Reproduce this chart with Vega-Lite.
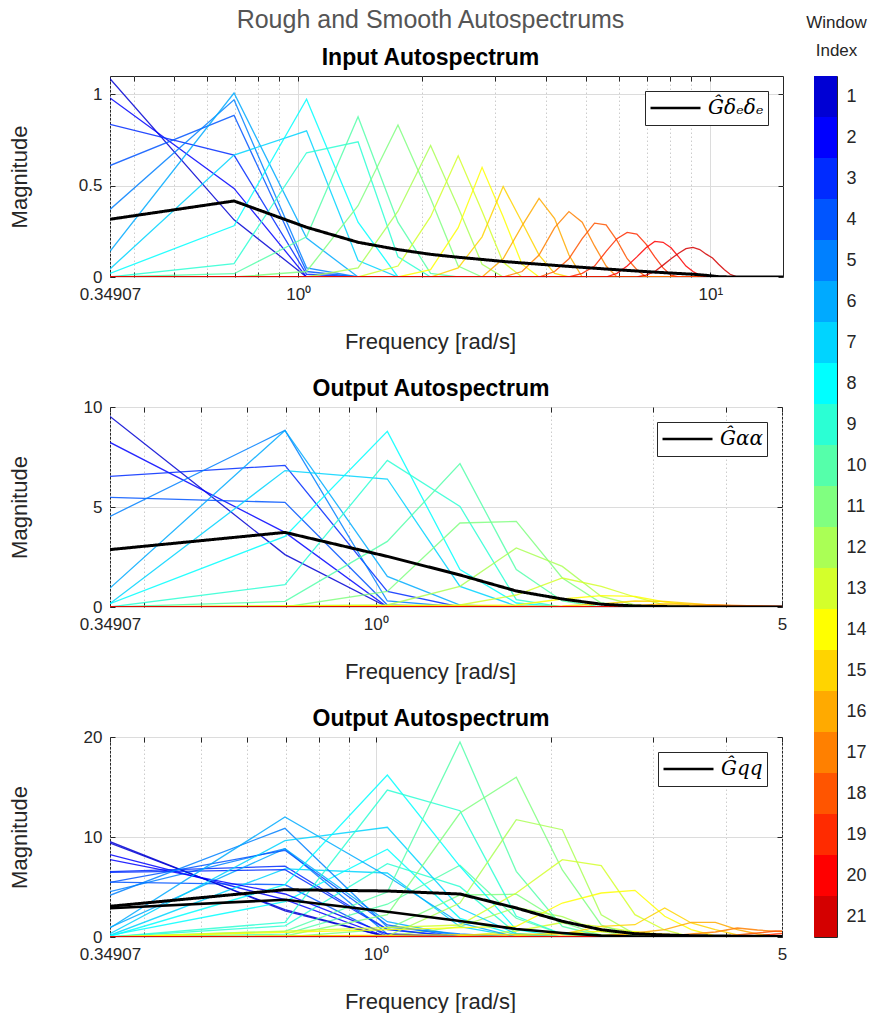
{
  "$schema": "https://vega.github.io/schema/vega-lite/v6.json",
  "padding": {"left": 7, "top": 7, "right": 0, "bottom": 0},
  "background": "white",
  "config": {
    "font": "Liberation Sans",
    "view": {"stroke": "#262626", "strokeWidth": 1},
    "axis": {
      "domain": false,
      "labelFont": "Liberation Sans",
      "labelFontSize": 17,
      "labelColor": "#262626",
      "titleFont": "Liberation Sans",
      "titleFontSize": 22,
      "titleFontWeight": "normal",
      "titleColor": "#262626",
      "tickColor": "#262626",
      "tickSize": -5,
      "gridColor": "#dcdcdc",
      "gridWidth": 1
    },
    "title": {"font": "Liberation Sans", "fontSize": 23, "fontWeight": "bold", "color": "#000000", "frame": "group"}
  },
  "datasets": {
    "inR": [
      {"w":1,"f":0.34907,"v":1.085},{"w":1,"f":0.6981,"v":0.313},{"w":1,"f":1.0472,"v":0},{"w":1,"f":15.0098,"v":0},
      {"w":2,"f":0.34907,"v":0.98},{"w":2,"f":0.6981,"v":0.485},{"w":2,"f":1.0472,"v":0},{"w":2,"f":15.0098,"v":0},
      {"w":3,"f":0.34907,"v":0.835},{"w":3,"f":0.6981,"v":0.667},{"w":3,"f":1.0472,"v":0.015},{"w":3,"f":1.3963,"v":0},{"w":3,"f":15.0098,"v":0},
      {"w":4,"f":0.34907,"v":0.61},{"w":4,"f":0.6981,"v":0.885},{"w":4,"f":1.0472,"v":0.03},{"w":4,"f":1.3963,"v":0},{"w":4,"f":15.0098,"v":0},
      {"w":5,"f":0.34907,"v":0.37},{"w":5,"f":0.6981,"v":0.97},{"w":5,"f":1.0472,"v":0.05},{"w":5,"f":1.3963,"v":0},{"w":5,"f":15.0098,"v":0},
      {"w":6,"f":0.34907,"v":0.14},{"w":6,"f":0.6981,"v":1.007},{"w":6,"f":1.0472,"v":0.213},{"w":6,"f":1.3963,"v":0},{"w":6,"f":15.0098,"v":0},
      {"w":7,"f":0.34907,"v":0.044},{"w":7,"f":0.6981,"v":0.667},{"w":7,"f":1.0472,"v":0.8},{"w":7,"f":1.3963,"v":0.09},{"w":7,"f":1.7453,"v":0},{"w":7,"f":15.0098,"v":0},
      {"w":8,"f":0.34907,"v":0.02},{"w":8,"f":0.6981,"v":0.28},{"w":8,"f":1.0472,"v":0.973},{"w":8,"f":1.3963,"v":0.3},{"w":8,"f":1.7453,"v":0},{"w":8,"f":15.0098,"v":0},
      {"w":9,"f":0.34907,"v":0},{"w":9,"f":0.6981,"v":0.073},{"w":9,"f":1.0472,"v":0.68},{"w":9,"f":1.3963,"v":0.74},{"w":9,"f":1.7453,"v":0.11},{"w":9,"f":2.0944,"v":0},{"w":9,"f":15.0098,"v":0},
      {"w":10,"f":0.34907,"v":0},{"w":10,"f":0.6981,"v":0.018},{"w":10,"f":1.0472,"v":0.22},{"w":10,"f":1.3963,"v":0.877},{"w":10,"f":1.7453,"v":0.3},{"w":10,"f":2.0944,"v":0.02},{"w":10,"f":2.4435,"v":0},{"w":10,"f":15.0098,"v":0},
      {"w":11,"f":0.34907,"v":0},{"w":11,"f":0.6981,"v":0},{"w":11,"f":1.0472,"v":0.03},{"w":11,"f":1.3963,"v":0.39},{"w":11,"f":1.7453,"v":0.832},{"w":11,"f":2.0944,"v":0.43},{"w":11,"f":2.4435,"v":0.06},{"w":11,"f":2.7925,"v":0},{"w":11,"f":15.0098,"v":0},
      {"w":12,"f":0.34907,"v":0},{"w":12,"f":1.0472,"v":0},{"w":12,"f":1.3963,"v":0.05},{"w":12,"f":1.7453,"v":0.36},{"w":12,"f":2.0944,"v":0.72},{"w":12,"f":2.4435,"v":0.38},{"w":12,"f":2.7925,"v":0.07},{"w":12,"f":3.1416,"v":0},{"w":12,"f":15.0098,"v":0},
      {"w":13,"f":0.34907,"v":0},{"w":13,"f":1.3963,"v":0},{"w":13,"f":1.7453,"v":0.06},{"w":13,"f":2.0944,"v":0.33},{"w":13,"f":2.4435,"v":0.663},{"w":13,"f":2.7925,"v":0.36},{"w":13,"f":3.1416,"v":0.08},{"w":13,"f":3.4907,"v":0},{"w":13,"f":15.0098,"v":0},
      {"w":14,"f":0.34907,"v":0},{"w":14,"f":1.7453,"v":0},{"w":14,"f":2.0944,"v":0.04},{"w":14,"f":2.4435,"v":0.27},{"w":14,"f":2.7925,"v":0.6},{"w":14,"f":3.1416,"v":0.33},{"w":14,"f":3.4907,"v":0.07},{"w":14,"f":3.8398,"v":0},{"w":14,"f":15.0098,"v":0},
      {"w":15,"f":0.34907,"v":0},{"w":15,"f":2.0944,"v":0},{"w":15,"f":2.4435,"v":0.05},{"w":15,"f":2.7925,"v":0.22},{"w":15,"f":3.1416,"v":0.495},{"w":15,"f":3.4907,"v":0.3},{"w":15,"f":3.8398,"v":0.12},{"w":15,"f":4.1888,"v":0.02},{"w":15,"f":4.5379,"v":0},{"w":15,"f":15.0098,"v":0},
      {"w":16,"f":0.34907,"v":0},{"w":16,"f":2.7925,"v":0},{"w":16,"f":3.1416,"v":0.1},{"w":16,"f":3.4907,"v":0.28},{"w":16,"f":3.8398,"v":0.43},{"w":16,"f":4.1888,"v":0.32},{"w":16,"f":4.5379,"v":0.12},{"w":16,"f":4.8869,"v":0},{"w":16,"f":15.0098,"v":0},
      {"w":17,"f":0.34907,"v":0},{"w":17,"f":3.1416,"v":0},{"w":17,"f":3.4907,"v":0.03},{"w":17,"f":3.8398,"v":0.12},{"w":17,"f":4.1888,"v":0.27},{"w":17,"f":4.5379,"v":0.358},{"w":17,"f":4.8869,"v":0.3},{"w":17,"f":5.236,"v":0.17},{"w":17,"f":5.5851,"v":0.06},{"w":17,"f":5.9341,"v":0},{"w":17,"f":15.0098,"v":0},
      {"w":18,"f":0.34907,"v":0},{"w":18,"f":3.8398,"v":0},{"w":18,"f":4.1888,"v":0.03},{"w":18,"f":4.5379,"v":0.1},{"w":18,"f":4.8869,"v":0.21},{"w":18,"f":5.236,"v":0.295},{"w":18,"f":5.5851,"v":0.285},{"w":18,"f":5.9341,"v":0.2},{"w":18,"f":6.2832,"v":0.1},{"w":18,"f":6.6323,"v":0.04},{"w":18,"f":6.9813,"v":0},{"w":18,"f":15.0098,"v":0},
      {"w":19,"f":0.34907,"v":0},{"w":19,"f":4.5379,"v":0},{"w":19,"f":4.8869,"v":0.02},{"w":19,"f":5.236,"v":0.06},{"w":19,"f":5.5851,"v":0.14},{"w":19,"f":5.9341,"v":0.21},{"w":19,"f":6.2832,"v":0.244},{"w":19,"f":6.6323,"v":0.235},{"w":19,"f":6.9813,"v":0.18},{"w":19,"f":7.3304,"v":0.11},{"w":19,"f":7.6794,"v":0.05},{"w":19,"f":8.0285,"v":0.01},{"w":19,"f":8.3776,"v":0},{"w":19,"f":15.0098,"v":0},
      {"w":20,"f":0.34907,"v":0},{"w":20,"f":5.5851,"v":0},{"w":20,"f":5.9341,"v":0.02},{"w":20,"f":6.2832,"v":0.06},{"w":20,"f":6.6323,"v":0.11},{"w":20,"f":6.9813,"v":0.16},{"w":20,"f":7.3304,"v":0.195},{"w":20,"f":7.6794,"v":0.19},{"w":20,"f":8.0285,"v":0.16},{"w":20,"f":8.3776,"v":0.11},{"w":20,"f":8.7266,"v":0.06},{"w":20,"f":9.0757,"v":0.03},{"w":20,"f":9.4248,"v":0.01},{"w":20,"f":9.7738,"v":0},{"w":20,"f":15.0098,"v":0},
      {"w":21,"f":0.34907,"v":0},{"w":21,"f":6.6323,"v":0},{"w":21,"f":6.9813,"v":0.01},{"w":21,"f":7.3304,"v":0.03},{"w":21,"f":7.6794,"v":0.065},{"w":21,"f":8.0285,"v":0.1},{"w":21,"f":8.3776,"v":0.13},{"w":21,"f":8.7266,"v":0.155},{"w":21,"f":9.0757,"v":0.162},{"w":21,"f":9.4248,"v":0.15},{"w":21,"f":9.7738,"v":0.125},{"w":21,"f":10.1229,"v":0.104},{"w":21,"f":10.472,"v":0.07},{"w":21,"f":10.821,"v":0.04},{"w":21,"f":11.1701,"v":0.015},{"w":21,"f":11.5192,"v":0.003},{"w":21,"f":11.8682,"v":0},{"w":21,"f":15.0098,"v":0}
    ],
    "inS": [
      {"f":0.34907,"v":0.316},{"f":0.6981,"v":0.416},{"f":1.0472,"v":0.272},{"f":1.3963,"v":0.19},{"f":1.7453,"v":0.15},{"f":2.0944,"v":0.124},{"f":2.4435,"v":0.108},{"f":2.7925,"v":0.096},{"f":3.1416,"v":0.085},{"f":3.4907,"v":0.077},{"f":3.8398,"v":0.07},{"f":4.5379,"v":0.058},{"f":5.236,"v":0.048},{"f":6.2832,"v":0.036},{"f":7.6794,"v":0.024},{"f":9.0757,"v":0.015},{"f":9.7738,"v":0.009},{"f":10.472,"v":0.002},{"f":11.1701,"v":0},{"f":15.0098,"v":0}
    ],
    "alR": [
      {"w":1,"f":0.34907,"v":9.53},{"w":1,"f":0.6981,"v":2.62},{"w":1,"f":1.0472,"v":0},{"w":1,"f":5.236,"v":0},
      {"w":2,"f":0.34907,"v":8.23},{"w":2,"f":0.6981,"v":3.73},{"w":2,"f":1.0472,"v":0},{"w":2,"f":5.236,"v":0},
      {"w":3,"f":0.34907,"v":6.53},{"w":3,"f":0.6981,"v":7.08},{"w":3,"f":1.0472,"v":0.78},{"w":3,"f":1.3963,"v":0},{"w":3,"f":5.236,"v":0},
      {"w":4,"f":0.34907,"v":5.48},{"w":4,"f":0.6981,"v":5.23},{"w":4,"f":1.0472,"v":0.1},{"w":4,"f":1.3963,"v":0},{"w":4,"f":5.236,"v":0},
      {"w":5,"f":0.34907,"v":4.53},{"w":5,"f":0.6981,"v":8.83},{"w":5,"f":1.0472,"v":0.3},{"w":5,"f":1.3963,"v":0},{"w":5,"f":5.236,"v":0},
      {"w":6,"f":0.34907,"v":0.95},{"w":6,"f":0.6981,"v":8.83},{"w":6,"f":1.0472,"v":1.53},{"w":6,"f":1.3963,"v":0.1},{"w":6,"f":1.7453,"v":0},{"w":6,"f":5.236,"v":0},
      {"w":7,"f":0.34907,"v":0.17},{"w":7,"f":0.6981,"v":6.82},{"w":7,"f":1.0472,"v":6.4},{"w":7,"f":1.3963,"v":1.03},{"w":7,"f":1.7453,"v":0.05},{"w":7,"f":2.0944,"v":0},{"w":7,"f":5.236,"v":0},
      {"w":8,"f":0.34907,"v":0.17},{"w":8,"f":0.6981,"v":3.53},{"w":8,"f":1.0472,"v":8.78},{"w":8,"f":1.3963,"v":1.87},{"w":8,"f":1.7453,"v":0.2},{"w":8,"f":2.0944,"v":0},{"w":8,"f":5.236,"v":0},
      {"w":9,"f":0.34907,"v":0},{"w":9,"f":0.6981,"v":1.12},{"w":9,"f":1.0472,"v":7.33},{"w":9,"f":1.3963,"v":5.03},{"w":9,"f":1.7453,"v":0.37},{"w":9,"f":2.0944,"v":0},{"w":9,"f":5.236,"v":0},
      {"w":10,"f":0.34907,"v":0},{"w":10,"f":0.6981,"v":0.28},{"w":10,"f":1.0472,"v":3.28},{"w":10,"f":1.3963,"v":7.17},{"w":10,"f":1.7453,"v":1.87},{"w":10,"f":2.0944,"v":0.3},{"w":10,"f":2.4435,"v":0},{"w":10,"f":5.236,"v":0},
      {"w":11,"f":0.34907,"v":0},{"w":11,"f":0.6981,"v":0},{"w":11,"f":1.0472,"v":0.78},{"w":11,"f":1.3963,"v":4.2},{"w":11,"f":1.7453,"v":4.28},{"w":11,"f":2.0944,"v":1.45},{"w":11,"f":2.4435,"v":0.2},{"w":11,"f":2.7925,"v":0},{"w":11,"f":5.236,"v":0},
      {"w":12,"f":0.34907,"v":0},{"w":12,"f":1.0472,"v":0.1},{"w":12,"f":1.3963,"v":1.03},{"w":12,"f":1.7453,"v":2.95},{"w":12,"f":2.0944,"v":2.03},{"w":12,"f":2.4435,"v":0.53},{"w":12,"f":2.7925,"v":0.1},{"w":12,"f":3.1416,"v":0},{"w":12,"f":5.236,"v":0},
      {"w":13,"f":0.34907,"v":0},{"w":13,"f":1.3963,"v":0.1},{"w":13,"f":1.7453,"v":0.6},{"w":13,"f":2.0944,"v":1.45},{"w":13,"f":2.4435,"v":1.03},{"w":13,"f":2.7925,"v":0.5},{"w":13,"f":3.1416,"v":0.1},{"w":13,"f":3.4907,"v":0},{"w":13,"f":5.236,"v":0},
      {"w":14,"f":0.34907,"v":0},{"w":14,"f":1.7453,"v":0.1},{"w":14,"f":2.0944,"v":0.4},{"w":14,"f":2.4435,"v":0.57},{"w":14,"f":2.7925,"v":0.53},{"w":14,"f":3.1416,"v":0.25},{"w":14,"f":3.4907,"v":0.1},{"w":14,"f":3.8398,"v":0.02},{"w":14,"f":4.1888,"v":0},{"w":14,"f":5.236,"v":0},
      {"w":15,"f":0.34907,"v":0},{"w":15,"f":2.0944,"v":0.05},{"w":15,"f":2.4435,"v":0.15},{"w":15,"f":2.7925,"v":0.3},{"w":15,"f":3.1416,"v":0.28},{"w":15,"f":3.4907,"v":0.18},{"w":15,"f":3.8398,"v":0.08},{"w":15,"f":4.1888,"v":0.02},{"w":15,"f":4.5379,"v":0},{"w":15,"f":5.236,"v":0},
      {"w":16,"f":0.34907,"v":0},{"w":16,"f":2.4435,"v":0.02},{"w":16,"f":2.7925,"v":0.08},{"w":16,"f":3.1416,"v":0.15},{"w":16,"f":3.4907,"v":0.14},{"w":16,"f":3.8398,"v":0.1},{"w":16,"f":4.1888,"v":0.05},{"w":16,"f":4.5379,"v":0.02},{"w":16,"f":4.8869,"v":0},{"w":16,"f":5.236,"v":0},
      {"w":17,"f":0.34907,"v":0},{"w":17,"f":3.1416,"v":0.02},{"w":17,"f":3.4907,"v":0.06},{"w":17,"f":3.8398,"v":0.1},{"w":17,"f":4.1888,"v":0.08},{"w":17,"f":4.5379,"v":0.05},{"w":17,"f":4.8869,"v":0.02},{"w":17,"f":5.236,"v":0},
      {"w":18,"f":0.34907,"v":0},{"w":18,"f":3.4907,"v":0.01},{"w":18,"f":3.8398,"v":0.03},{"w":18,"f":4.1888,"v":0.05},{"w":18,"f":4.5379,"v":0.06},{"w":18,"f":4.8869,"v":0.04},{"w":18,"f":5.236,"v":0.02},
      {"w":19,"f":0.34907,"v":0},{"w":19,"f":4.1888,"v":0.01},{"w":19,"f":4.5379,"v":0.02},{"w":19,"f":4.8869,"v":0.03},{"w":19,"f":5.236,"v":0.03},
      {"w":20,"f":0.34907,"v":0},{"w":20,"f":4.8869,"v":0.01},{"w":20,"f":5.236,"v":0.01},
      {"w":21,"f":0.34907,"v":0},{"w":21,"f":5.236,"v":0}
    ],
    "alS": [
      {"f":0.34907,"v":2.87},{"f":0.6981,"v":3.73},{"f":1.0472,"v":2.53},{"f":1.3963,"v":1.6},{"f":1.7453,"v":0.8},{"f":2.0944,"v":0.4},{"f":2.4435,"v":0.14},{"f":2.7925,"v":0.05},{"f":3.1416,"v":0.02},{"f":3.4907,"v":0.005},{"f":3.8398,"v":0},{"f":5.236,"v":0}
    ],
    "qR": [
      {"w":1,"f":0.34907,"v":9.4},{"w":1,"f":0.6981,"v":2.73},{"w":1,"f":1.0472,"v":0},{"w":1,"f":5.236,"v":0},
      {"w":2,"f":0.34907,"v":7.73},{"w":2,"f":0.6981,"v":4.3},{"w":2,"f":1.0472,"v":0.3},{"w":2,"f":1.3963,"v":0},{"w":2,"f":5.236,"v":0},
      {"w":3,"f":0.34907,"v":6.47},{"w":3,"f":0.6981,"v":6.73},{"w":3,"f":1.0472,"v":0.73},{"w":3,"f":1.3963,"v":0},{"w":3,"f":5.236,"v":0},
      {"w":4,"f":0.34907,"v":5.47},{"w":4,"f":0.6981,"v":8.67},{"w":4,"f":1.0472,"v":1.2},{"w":4,"f":1.3963,"v":0},{"w":4,"f":5.236,"v":0},
      {"w":5,"f":0.34907,"v":4.17},{"w":5,"f":0.6981,"v":10.87},{"w":5,"f":1.0472,"v":1.0},{"w":5,"f":1.3963,"v":0.3},{"w":5,"f":1.7453,"v":0},{"w":5,"f":5.236,"v":0},
      {"w":6,"f":0.34907,"v":0.9},{"w":6,"f":0.6981,"v":12.0},{"w":6,"f":1.0472,"v":6.07},{"w":6,"f":1.3963,"v":1.4},{"w":6,"f":1.7453,"v":0},{"w":6,"f":5.236,"v":0},
      {"w":7,"f":0.34907,"v":0.33},{"w":7,"f":0.6981,"v":9.63},{"w":7,"f":1.0472,"v":10.97},{"w":7,"f":1.3963,"v":2.9},{"w":7,"f":1.7453,"v":0.3},{"w":7,"f":2.0944,"v":0},{"w":7,"f":5.236,"v":0},
      {"w":8,"f":0.34907,"v":0.07},{"w":8,"f":0.6981,"v":5.23},{"w":8,"f":1.0472,"v":16.2},{"w":8,"f":1.3963,"v":7.07},{"w":8,"f":1.7453,"v":0.73},{"w":8,"f":2.0944,"v":0},{"w":8,"f":5.236,"v":0},
      {"w":9,"f":0.34907,"v":0},{"w":9,"f":0.6981,"v":1.47},{"w":9,"f":1.0472,"v":14.7},{"w":9,"f":1.3963,"v":12.63},{"w":9,"f":1.7453,"v":2.07},{"w":9,"f":2.0944,"v":0.3},{"w":9,"f":2.4435,"v":0},{"w":9,"f":5.236,"v":0},
      {"w":10,"f":0.34907,"v":0},{"w":10,"f":0.6981,"v":0.57},{"w":10,"f":1.0472,"v":4.5},{"w":10,"f":1.3963,"v":19.5},{"w":10,"f":1.7453,"v":6.57},{"w":10,"f":2.0944,"v":1.07},{"w":10,"f":2.4435,"v":0.1},{"w":10,"f":2.7925,"v":0},{"w":10,"f":5.236,"v":0},
      {"w":11,"f":0.34907,"v":0},{"w":11,"f":0.6981,"v":0.1},{"w":11,"f":1.0472,"v":2.23},{"w":11,"f":1.3963,"v":12.4},{"w":11,"f":1.7453,"v":15.97},{"w":11,"f":2.0944,"v":6.7},{"w":11,"f":2.4435,"v":1.2},{"w":11,"f":2.7925,"v":0.1},{"w":11,"f":3.1416,"v":0},{"w":11,"f":5.236,"v":0},
      {"w":12,"f":0.34907,"v":0},{"w":12,"f":1.0472,"v":0.1},{"w":12,"f":1.3963,"v":3.4},{"w":12,"f":1.7453,"v":11.73},{"w":12,"f":2.0944,"v":10.73},{"w":12,"f":2.4435,"v":2.23},{"w":12,"f":2.7925,"v":0.3},{"w":12,"f":3.1416,"v":0},{"w":12,"f":5.236,"v":0},
      {"w":13,"f":0.34907,"v":0},{"w":13,"f":1.3963,"v":1.2},{"w":13,"f":1.7453,"v":4.4},{"w":13,"f":2.0944,"v":7.73},{"w":13,"f":2.4435,"v":7.13},{"w":13,"f":2.7925,"v":2.23},{"w":13,"f":3.1416,"v":0.7},{"w":13,"f":3.4907,"v":0},{"w":13,"f":5.236,"v":0},
      {"w":14,"f":0.34907,"v":0},{"w":14,"f":1.7453,"v":1.07},{"w":14,"f":2.0944,"v":3.4},{"w":14,"f":2.4435,"v":4.4},{"w":14,"f":2.7925,"v":4.67},{"w":14,"f":3.1416,"v":2.07},{"w":14,"f":3.4907,"v":0.73},{"w":14,"f":3.8398,"v":0.1},{"w":14,"f":4.1888,"v":0},{"w":14,"f":5.236,"v":0},
      {"w":15,"f":0.34907,"v":0},{"w":15,"f":2.0944,"v":0.3},{"w":15,"f":2.4435,"v":1.07},{"w":15,"f":2.7925,"v":1.23},{"w":15,"f":3.1416,"v":2.9},{"w":15,"f":3.4907,"v":1.4},{"w":15,"f":3.8398,"v":0.73},{"w":15,"f":4.1888,"v":0.2},{"w":15,"f":4.5379,"v":0},{"w":15,"f":5.236,"v":0},
      {"w":16,"f":0.34907,"v":0},{"w":16,"f":2.4435,"v":0.1},{"w":16,"f":2.7925,"v":0.4},{"w":16,"f":3.1416,"v":0.73},{"w":16,"f":3.4907,"v":1.47},{"w":16,"f":3.8398,"v":1.47},{"w":16,"f":4.1888,"v":0.73},{"w":16,"f":4.5379,"v":0.3},{"w":16,"f":4.8869,"v":0.1},{"w":16,"f":5.236,"v":0},
      {"w":17,"f":0.34907,"v":0},{"w":17,"f":3.1416,"v":0.05},{"w":17,"f":3.4907,"v":0.3},{"w":17,"f":3.8398,"v":0.5},{"w":17,"f":4.1888,"v":0.9},{"w":17,"f":4.5379,"v":0.7},{"w":17,"f":4.8869,"v":0.57},{"w":17,"f":5.236,"v":0.5},
      {"w":18,"f":0.34907,"v":0},{"w":18,"f":3.8398,"v":0.05},{"w":18,"f":4.1888,"v":0.2},{"w":18,"f":4.5379,"v":0.4},{"w":18,"f":4.8869,"v":0.6},{"w":18,"f":5.236,"v":0.6},
      {"w":19,"f":0.34907,"v":0},{"w":19,"f":4.1888,"v":0.02},{"w":19,"f":4.5379,"v":0.1},{"w":19,"f":4.8869,"v":0.3},{"w":19,"f":5.236,"v":0.4},
      {"w":20,"f":0.34907,"v":0},{"w":20,"f":4.5379,"v":0.02},{"w":20,"f":4.8869,"v":0.1},{"w":20,"f":5.236,"v":0.2},
      {"w":21,"f":0.34907,"v":0},{"w":21,"f":4.8869,"v":0.02},{"w":21,"f":5.236,"v":0.1}
    ],
    "qS": [
      {"f":0.34907,"v":3.07},{"f":0.6981,"v":4.73},{"f":1.0472,"v":4.6},{"f":1.3963,"v":4.3},{"f":1.7453,"v":2.9},{"f":2.0944,"v":1.57},{"f":2.4435,"v":0.73},{"f":2.7925,"v":0.33},{"f":3.1416,"v":0.2},{"f":3.4907,"v":0.13},{"f":4.1888,"v":0.08},{"f":5.236,"v":0.05}
    ],
    "win": [
      {"w":1},{"w":2},{"w":3},{"w":4},{"w":5},{"w":6},{"w":7},{"w":8},{"w":9},{"w":10},{"w":11},
      {"w":12},{"w":13},{"w":14},{"w":15},{"w":16},{"w":17},{"w":18},{"w":19},{"w":20},{"w":21}
    ]
  },
  "hconcat": [
    {
      "spacing": 24,
      "resolve": {"scale": {"strokeDash": "independent"}, "legend": {"strokeDash": "independent"}},
      "vconcat": [
        {
          "width": 673,
          "height": 201,
          "title": {
            "text": "Rough and Smooth Autospectrums",
            "subtitle": "Input Autospectrum",
            "fontSize": 25,
            "fontWeight": "normal",
            "color": "#555555",
            "subtitleFont": "Liberation Sans",
            "subtitleFontSize": 23,
            "subtitleFontWeight": "bold",
            "subtitleColor": "#000000",
            "subtitlePadding": 14,
            "dx": -16,
            "offset": 6
          },
          "resolve": {"axis": {"x": "independent", "y": "independent"}},
          "layer": [
            {
              "data": {"name": "inR"},
              "mark": {"type": "line", "strokeWidth": 1.3, "opacity": 0.85, "clip": true},
              "encoding": {
                "x": {
                  "field": "f", "type": "quantitative",
                  "scale": {"type": "log", "domain": [0.34907, 15.01], "nice": false},
                  "axis": {
                    "title": "Frequency [rad/s]",
                    "titleX": 320,
                    "values": [0.34907, 0.4, 0.5, 0.6, 0.7, 0.8, 0.9, 1, 2, 3, 4, 5, 6, 7, 8, 9, 10],
                    "labelExpr": "datum.value == 1 ? '10⁰' : datum.value == 10 ? '10¹' : datum.value < 0.36 ? '0.34907' : ''",
                    "labelFlush": false,
                    "labelOverlap": false,
                    "labelPadding": 14,
                    "titlePadding": 29,
                    "grid": true,
                    "gridDash": {"condition": {"test": "datum.value == 1 || datum.value == 10", "value": []}, "value": [1.5, 2.5]},
                    "gridColor": {"condition": {"test": "datum.value == 1 || datum.value == 10", "value": "#dcdcdc"}, "value": "#cccccc"}
                  }
                },
                "y": {
                  "field": "v", "type": "quantitative",
                  "scale": {"domain": [0, 1.1], "nice": false},
                  "axis": {"title": "Magnitude", "values": [0, 0.5, 1], "format": ".1~f", "labelPadding": 13, "titlePadding": 47, "grid": true}
                },
                "color": {
                  "field": "w", "type": "ordinal",
                  "scale": {
                    "domain": [1,2,3,4,5,6,7,8,9,10,11,12,13,14,15,16,17,18,19,20,21],
                    "range": ["#0000D4","#0000FF","#002BFF","#0055FF","#0080FF","#00AAFF","#00D4FF","#00FFFF","#2BFFD4","#55FFAA","#80FF80","#AAFF55","#D4FF2B","#FFFF00","#FFD400","#FFAA00","#FF8000","#FF5500","#FF2B00","#FF0000","#D40000"]
                  },
                  "legend": null
                }
              }
            },
            {
              "data": {"name": "inS"},
              "mark": {"type": "line", "color": "#000000", "strokeWidth": 3, "clip": true},
              "encoding": {
                "x": {"field": "f", "type": "quantitative", "axis": {"orient": "top", "values": [0.34907, 0.4, 0.5, 0.6, 0.7, 0.8, 0.9, 1, 2, 3, 4, 5, 6, 7, 8, 9, 10], "labels": false, "grid": false, "title": null, "minExtent": 0}},
                "y": {"field": "v", "type": "quantitative", "axis": {"orient": "right", "values": [0, 0.5, 1], "labels": false, "grid": false, "title": null, "minExtent": 0}},
                "strokeDash": {
                  "datum": "Ĝδₑδₑ", "type": "nominal",
                  "scale": {"range": [[1, 0]]},
                  "legend": {"title": null, "orient": "top-right", "offset": 15, "padding": 4, "strokeColor": "#262626", "fillColor": "#ffffff", "symbolType": "stroke", "symbolSize": 2500, "symbolStrokeWidth": 2.6, "symbolStrokeColor": "#000000", "labelFont": "DejaVu Serif", "labelFontStyle": "italic", "labelFontSize": 20, "labelColor": "#000000", "labelOffset": 6, "clipHeight": 26}
                }
              }
            }
          ]
        },
        {
          "width": 672,
          "height": 200,
          "title": {"text": "Output Autospectrum", "dx": -15, "offset": -3},
          "resolve": {"axis": {"x": "independent", "y": "independent"}},
          "layer": [
            {
              "data": {"name": "alR"},
              "mark": {"type": "line", "strokeWidth": 1.3, "opacity": 0.85, "clip": true},
              "encoding": {
                "x": {
                  "field": "f", "type": "quantitative",
                  "scale": {"type": "log", "domain": [0.34907, 5], "nice": false},
                  "axis": {
                    "title": "Frequency [rad/s]",
                    "titleX": 320,
                    "values": [0.34907, 0.4, 0.5, 0.6, 0.7, 0.8, 0.9, 1, 2, 3, 4, 5],
                    "labelExpr": "datum.value == 1 ? '10⁰' : datum.value == 5 ? '5' : datum.value < 0.36 ? '0.34907' : ''",
                    "labelFlush": false,
                    "labelOverlap": false,
                    "labelPadding": 14,
                    "titlePadding": 29,
                    "grid": true,
                    "gridDash": {"condition": {"test": "datum.value == 1", "value": []}, "value": [1.5, 2.5]},
                    "gridColor": {"condition": {"test": "datum.value == 1", "value": "#dcdcdc"}, "value": "#cccccc"}
                  }
                },
                "y": {
                  "field": "v", "type": "quantitative",
                  "scale": {"domain": [0, 10], "nice": false},
                  "axis": {"title": "Magnitude", "values": [0, 5, 10], "labelPadding": 13, "titlePadding": 52, "grid": true}
                },
                "color": {
                  "field": "w", "type": "ordinal",
                  "scale": {
                    "domain": [1,2,3,4,5,6,7,8,9,10,11,12,13,14,15,16,17,18,19,20,21],
                    "range": ["#0000D4","#0000FF","#002BFF","#0055FF","#0080FF","#00AAFF","#00D4FF","#00FFFF","#2BFFD4","#55FFAA","#80FF80","#AAFF55","#D4FF2B","#FFFF00","#FFD400","#FFAA00","#FF8000","#FF5500","#FF2B00","#FF0000","#D40000"]
                  },
                  "legend": null
                }
              }
            },
            {
              "data": {"name": "alS"},
              "mark": {"type": "line", "color": "#000000", "strokeWidth": 3, "clip": true},
              "encoding": {
                "x": {"field": "f", "type": "quantitative", "axis": {"orient": "top", "values": [0.34907, 0.4, 0.5, 0.6, 0.7, 0.8, 0.9, 1, 2, 3, 4, 5], "labels": false, "grid": false, "title": null, "minExtent": 0}},
                "y": {"field": "v", "type": "quantitative", "axis": {"orient": "right", "values": [0, 5, 10], "labels": false, "grid": false, "title": null, "minExtent": 0}},
                "strokeDash": {
                  "datum": "Ĝαα", "type": "nominal",
                  "scale": {"range": [[1, 0]]},
                  "legend": {"title": null, "orient": "top-right", "offset": 15, "padding": 4, "strokeColor": "#262626", "fillColor": "#ffffff", "symbolType": "stroke", "symbolSize": 2500, "symbolStrokeWidth": 2.6, "symbolStrokeColor": "#000000", "labelFont": "DejaVu Serif", "labelFontStyle": "italic", "labelFontSize": 20, "labelColor": "#000000", "labelOffset": 6, "clipHeight": 26}
                }
              }
            }
          ]
        },
        {
          "width": 672,
          "height": 200,
          "title": {"text": "Output Autospectrum", "dx": -15, "offset": -3},
          "resolve": {"axis": {"x": "independent", "y": "independent"}},
          "layer": [
            {
              "data": {"name": "alR"},
              "mark": {"type": "line", "strokeWidth": 1.3, "opacity": 0.85, "clip": true},
              "encoding": {
                "x": {
                  "field": "f", "type": "quantitative",
                  "scale": {"type": "log", "domain": [0.34907, 5], "nice": false},
                  "axis": {
                    "title": "Frequency [rad/s]",
                    "titleX": 320,
                    "values": [0.34907, 0.4, 0.5, 0.6, 0.7, 0.8, 0.9, 1, 2, 3, 4, 5],
                    "labelExpr": "datum.value == 1 ? '10⁰' : datum.value == 5 ? '5' : datum.value < 0.36 ? '0.34907' : ''",
                    "labelFlush": false,
                    "labelOverlap": false,
                    "labelPadding": 14,
                    "titlePadding": 29,
                    "grid": true,
                    "gridDash": {"condition": {"test": "datum.value == 1", "value": []}, "value": [1.5, 2.5]},
                    "gridColor": {"condition": {"test": "datum.value == 1", "value": "#dcdcdc"}, "value": "#cccccc"}
                  }
                },
                "y": {
                  "field": "v", "type": "quantitative",
                  "scale": {"domain": [0, 20], "nice": false},
                  "axis": {"title": "Magnitude", "values": [0, 10, 20], "labelPadding": 13, "titlePadding": 52, "grid": true}
                },
                "color": {
                  "field": "w", "type": "ordinal",
                  "scale": {
                    "domain": [1,2,3,4,5,6,7,8,9,10,11,12,13,14,15,16,17,18,19,20,21],
                    "range": ["#0000D4","#0000FF","#002BFF","#0055FF","#0080FF","#00AAFF","#00D4FF","#00FFFF","#2BFFD4","#55FFAA","#80FF80","#AAFF55","#D4FF2B","#FFFF00","#FFD400","#FFAA00","#FF8000","#FF5500","#FF2B00","#FF0000","#D40000"]
                  },
                  "legend": null
                }
              }
            },
            {
              "data": {"name": "qR"},
              "mark": {"type": "line", "strokeWidth": 1.3, "opacity": 0.85, "clip": true},
              "encoding": {
                "x": {"field": "f", "type": "quantitative", "axis": null},
                "y": {"field": "v", "type": "quantitative", "axis": null},
                "color": {"field": "w", "type": "ordinal", "legend": null}
              }
            },
            {
              "data": {"name": "alS"},
              "mark": {"type": "line", "color": "#000000", "strokeWidth": 2.6, "clip": true},
              "encoding": {
                "x": {"field": "f", "type": "quantitative", "axis": null},
                "y": {"field": "v", "type": "quantitative", "axis": null}
              }
            },
            {
              "data": {"name": "qS"},
              "mark": {"type": "line", "color": "#000000", "strokeWidth": 3, "clip": true},
              "encoding": {
                "x": {"field": "f", "type": "quantitative", "axis": {"orient": "top", "values": [0.34907, 0.4, 0.5, 0.6, 0.7, 0.8, 0.9, 1, 2, 3, 4, 5], "labels": false, "grid": false, "title": null, "minExtent": 0}},
                "y": {"field": "v", "type": "quantitative", "axis": {"orient": "right", "values": [0, 10, 20], "labels": false, "grid": false, "title": null, "minExtent": 0}},
                "strokeDash": {
                  "datum": "Ĝqq", "type": "nominal",
                  "scale": {"range": [[1, 0]]},
                  "legend": {"title": null, "orient": "top-right", "offset": 15, "padding": 4, "strokeColor": "#262626", "fillColor": "#ffffff", "symbolType": "stroke", "symbolSize": 2500, "symbolStrokeWidth": 2.6, "symbolStrokeColor": "#000000", "labelFont": "DejaVu Serif", "labelFontStyle": "italic", "labelFontSize": 20, "labelColor": "#000000", "labelOffset": 6, "clipHeight": 26}
                }
              }
            }
          ]
        }
      ]
    },
    {
      "width": 23,
      "height": 861,
      "data": {"name": "win"},
      "title": {"text": ["Window", "Index"], "fontSize": 17, "fontWeight": "normal", "color": "#262626", "lineHeight": 28, "dx": 11, "offset": 16},
      "mark": {"type": "rect"},
      "encoding": {
        "y": {
          "field": "w", "type": "ordinal",
          "scale": {"paddingInner": 0, "paddingOuter": 0},
          "axis": {"orient": "right", "title": null, "ticks": false, "domain": false, "grid": false, "labelAngle": 0, "labelPadding": 9, "labelFontSize": 18, "labelColor": "#262626"}
        },
        "x": {"datum": 0, "type": "quantitative", "scale": {"domain": [0, 1], "nice": false}, "axis": null},
        "x2": {"datum": 1},
        "color": {
          "field": "w", "type": "ordinal",
          "scale": {
            "domain": [1,2,3,4,5,6,7,8,9,10,11,12,13,14,15,16,17,18,19,20,21],
            "range": ["#0000D4","#0000FF","#002BFF","#0055FF","#0080FF","#00AAFF","#00D4FF","#00FFFF","#2BFFD4","#55FFAA","#80FF80","#AAFF55","#D4FF2B","#FFFF00","#FFD400","#FFAA00","#FF8000","#FF5500","#FF2B00","#FF0000","#D40000"]
          },
          "legend": null
        }
      }
    }
  ],
  "spacing": 17
}
